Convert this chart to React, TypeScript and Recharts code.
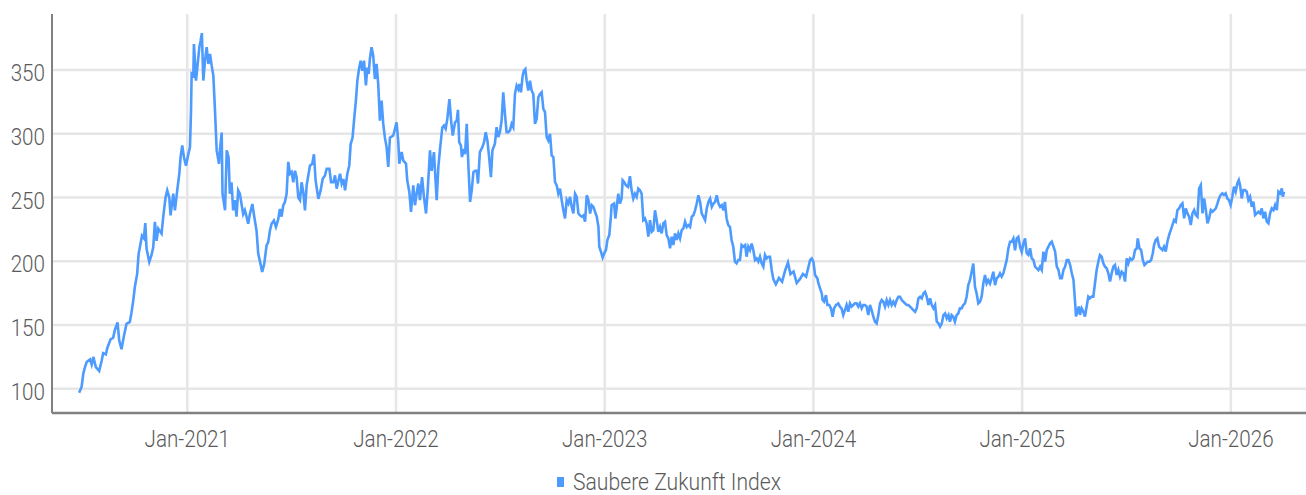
import React from 'react';
import { LineChart, Line, XAxis, YAxis, CartesianGrid, Legend } from 'recharts';

// [time in decimal years, index value]
const pts2020: [number, number][] = [
  [2020.482, 96.9], [2020.494, 101.6], [2020.502, 112], [2020.510, 117], [2020.518, 121], [2020.534, 123], [2020.542, 119],
  [2020.550, 125], [2020.562, 117], [2020.578, 114], [2020.590, 122], [2020.597, 128], [2020.610, 127], [2020.617, 132],
  [2020.633, 139], [2020.645, 140], [2020.653, 146], [2020.666, 152], [2020.674, 138], [2020.685, 131], [2020.696, 141],
  [2020.709, 151], [2020.725, 152.5], [2020.733, 160], [2020.741, 169], [2020.749, 180], [2020.760, 190], [2020.767, 206],
  [2020.773, 211], [2020.783, 220], [2020.792, 218], [2020.799, 230], [2020.805, 210], [2020.818, 199.5], [2020.829, 205],
  [2020.837, 211], [2020.845, 231], [2020.853, 216], [2020.861, 225.6], [2020.877, 221.7], [2020.885, 235], [2020.896, 250],
  [2020.904, 255.6], [2020.914, 250], [2020.920, 236], [2020.933, 253], [2020.941, 240], [2020.952, 255.6], [2020.962, 268.7],
  [2020.968, 281.7], [2020.976, 290.9], [2020.984, 281.7], [2020.994, 275],
];

const pts2021: [number, number][] = [
  [2021.005, 284], [2021.013, 289.6], [2021.018, 318], [2021.021, 347], [2021.029, 345.7], [2021.032, 370.5], [2021.042, 341.7],
  [2021.050, 354.8], [2021.058, 368], [2021.064, 373], [2021.070, 379], [2021.077, 341.8], [2021.085, 357.4], [2021.093, 368],
  [2021.101, 354.8], [2021.109, 362.7], [2021.117, 353.5], [2021.125, 345.7], [2021.133, 318], [2021.141, 287], [2021.152, 276.5],
  [2021.157, 288], [2021.165, 301], [2021.169, 253], [2021.181, 240], [2021.189, 287], [2021.198, 281.7], [2021.204, 253],
  [2021.212, 262], [2021.220, 240], [2021.228, 248], [2021.236, 235], [2021.244, 255.6], [2021.252, 253], [2021.260, 245],
  [2021.268, 237], [2021.276, 240], [2021.284, 235], [2021.292, 229.5], [2021.300, 237], [2021.312, 245], [2021.319, 237],
  [2021.332, 224], [2021.340, 206], [2021.351, 198], [2021.359, 191.6], [2021.369, 198], [2021.380, 212.5], [2021.388, 215],
  [2021.396, 224], [2021.404, 229.5], [2021.415, 232], [2021.425, 227], [2021.436, 233], [2021.444, 241], [2021.452, 235],
  [2021.460, 244], [2021.468, 246.5], [2021.476, 253], [2021.484, 278], [2021.492, 268.7], [2021.500, 270], [2021.508, 262],
  [2021.516, 271], [2021.524, 266], [2021.532, 250], [2021.540, 248], [2021.548, 262], [2021.556, 254], [2021.564, 240],
  [2021.572, 259.6], [2021.580, 267.4], [2021.588, 275], [2021.599, 276.5], [2021.607, 284], [2021.615, 263.4], [2021.628, 249],
  [2021.639, 255.6], [2021.649, 264.7], [2021.660, 267.4], [2021.668, 272.6], [2021.681, 272.6], [2021.689, 262], [2021.700, 262],
  [2021.708, 267.4], [2021.716, 257], [2021.724, 263], [2021.732, 268.7], [2021.740, 261], [2021.748, 264.7], [2021.756, 255.6],
  [2021.767, 268.7], [2021.776, 275], [2021.783, 292], [2021.792, 297], [2021.799, 310.4], [2021.808, 326], [2021.815, 341.8],
  [2021.824, 352], [2021.831, 357.4], [2021.839, 349.5], [2021.847, 357.4], [2021.856, 337.9], [2021.863, 352], [2021.869, 347],
  [2021.875, 358.7], [2021.883, 368], [2021.891, 361.3], [2021.899, 343], [2021.907, 354.8], [2021.915, 339], [2021.923, 310.4],
  [2021.931, 326], [2021.939, 307.8], [2021.947, 297], [2021.955, 289.6], [2021.963, 274], [2021.971, 297], [2021.987, 298.7],
];

const pts2022: [number, number][] = [
  [2022.003, 309], [2022.011, 294], [2022.016, 276.6], [2022.027, 285.7], [2022.035, 279], [2022.048, 276.6], [2022.054, 263.5],
  [2022.064, 254.4], [2022.072, 238.8], [2022.083, 259.6], [2022.091, 244], [2022.099, 253], [2022.107, 261], [2022.115, 248],
  [2022.125, 266], [2022.134, 250.5], [2022.144, 237.5], [2022.152, 255.7], [2022.163, 287], [2022.171, 271], [2022.182, 285.7],
  [2022.195, 248], [2022.203, 274], [2022.211, 288], [2022.222, 305], [2022.230, 306.5], [2022.238, 304], [2022.246, 311.7],
  [2022.256, 327.3], [2022.264, 310.4], [2022.272, 298.7], [2022.283, 309], [2022.291, 310.4], [2022.297, 318.8], [2022.303, 293.5],
  [2022.311, 291], [2022.316, 281.8], [2022.326, 288], [2022.331, 284], [2022.339, 307.8], [2022.347, 275], [2022.355, 246.6],
  [2022.363, 255.7], [2022.371, 270], [2022.379, 271], [2022.387, 271], [2022.393, 261], [2022.402, 285.7], [2022.414, 289.6],
  [2022.422, 293.5], [2022.430, 301.3], [2022.438, 294.8], [2022.447, 280.5], [2022.455, 266], [2022.462, 287], [2022.474, 292.2],
  [2022.482, 305.2], [2022.490, 297.4], [2022.498, 301.3], [2022.506, 310.4], [2022.514, 332.6], [2022.522, 315.6], [2022.530, 301.3],
  [2022.538, 301.3], [2022.546, 302.6], [2022.554, 307.8], [2022.562, 305.2], [2022.570, 331.2], [2022.578, 337.8], [2022.586, 335],
  [2022.591, 339], [2022.599, 332.6], [2022.607, 345.6], [2022.613, 349.5], [2022.620, 350.8], [2022.626, 341.7], [2022.634, 333.9],
  [2022.642, 341.7], [2022.650, 333.9], [2022.658, 331.2], [2022.666, 307.8], [2022.674, 311.7], [2022.682, 328.6], [2022.690, 331.2],
  [2022.698, 332.6], [2022.706, 319.5], [2022.714, 317], [2022.722, 297.4], [2022.730, 294.8], [2022.738, 300], [2022.746, 283],
  [2022.754, 281.8], [2022.762, 262.2], [2022.770, 259.6], [2022.778, 253], [2022.786, 257], [2022.794, 248], [2022.802, 240],
  [2022.810, 233.6], [2022.818, 248], [2022.826, 245.3], [2022.834, 250.5], [2022.842, 242.7], [2022.850, 237.5], [2022.858, 253],
  [2022.866, 250.5], [2022.874, 237.5], [2022.882, 236], [2022.890, 235], [2022.898, 236], [2022.906, 231], [2022.914, 251.8],
  [2022.922, 248], [2022.930, 237.5], [2022.938, 244], [2022.946, 242.7], [2022.954, 238.8], [2022.962, 235], [2022.970, 227],
  [2022.974, 211.5], [2022.982, 207.5], [2022.990, 203],
];

const pts2023: [number, number][] = [
  [2023.001, 207.5], [2023.006, 208.9], [2023.013, 216.7], [2023.022, 220.6], [2023.029, 233.6], [2023.033, 244], [2023.045, 245.3],
  [2023.051, 233.6], [2023.057, 241.4], [2023.065, 253], [2023.073, 245.3], [2023.081, 249.2], [2023.086, 263.5], [2023.093, 262.2],
  [2023.102, 259.6], [2023.112, 258.3], [2023.121, 266.7], [2023.129, 255.7], [2023.137, 249.2], [2023.145, 253], [2023.153, 250.5],
  [2023.161, 257], [2023.169, 255.7], [2023.177, 253], [2023.185, 232.3], [2023.193, 233.6], [2023.201, 229.7], [2023.209, 219.3],
  [2023.217, 232.3], [2023.225, 223.2], [2023.233, 224.5], [2023.241, 240], [2023.249, 232.3], [2023.257, 223.2], [2023.265, 227],
  [2023.273, 221.9], [2023.281, 229.7], [2023.289, 231], [2023.297, 220.6], [2023.305, 218], [2023.313, 210.2], [2023.321, 219.3],
  [2023.329, 212.8], [2023.337, 221.9], [2023.345, 216.7], [2023.353, 221.9], [2023.361, 218], [2023.369, 224.5], [2023.377, 225.8],
  [2023.385, 231], [2023.393, 227], [2023.401, 228.4], [2023.409, 227], [2023.417, 235], [2023.425, 236.2], [2023.433, 240],
  [2023.441, 245.3], [2023.449, 251.8], [2023.457, 246.6], [2023.465, 237.5], [2023.473, 235], [2023.481, 232.3], [2023.489, 241.4],
  [2023.497, 246.6], [2023.505, 249.2], [2023.513, 242.7], [2023.521, 245.3], [2023.529, 246.6], [2023.537, 251.8], [2023.545, 245.3],
  [2023.553, 242.7], [2023.561, 244], [2023.569, 240], [2023.576, 246.6], [2023.584, 233.6], [2023.592, 228.4], [2023.600, 227],
  [2023.608, 216.7], [2023.616, 211.5], [2023.624, 199.7], [2023.632, 198.4], [2023.640, 201], [2023.648, 201], [2023.656, 212.8],
  [2023.664, 211.5], [2023.673, 212.8], [2023.680, 203.6], [2023.688, 211.5], [2023.696, 208.9], [2023.704, 214], [2023.712, 208.9],
  [2023.720, 201], [2023.728, 202.3], [2023.736, 199.7], [2023.744, 203.6], [2023.752, 198.4], [2023.760, 195.8], [2023.768, 205],
  [2023.776, 202.3], [2023.784, 203.6], [2023.792, 203.6], [2023.800, 193.2], [2023.808, 186], [2023.820, 182], [2023.835, 187],
  [2023.850, 184], [2023.865, 193], [2023.878, 199], [2023.890, 190], [2023.905, 192], [2023.920, 183], [2023.935, 186],
  [2023.950, 190], [2023.965, 188], [2023.984, 200.9], [2023.992, 202.2],
];

const pts2024: [number, number][] = [
  [2024.000, 199.6], [2024.008, 189.2], [2024.019, 186.6], [2024.024, 182.6], [2024.032, 178.7], [2024.040, 174.8], [2024.044, 169.6],
  [2024.051, 168.3], [2024.060, 173.5], [2024.067, 165.7], [2024.076, 165.7], [2024.084, 163.1], [2024.092, 156.5], [2024.099, 163.1],
  [2024.108, 165.7], [2024.119, 167], [2024.127, 164.4], [2024.135, 163.1], [2024.143, 157.8], [2024.151, 161.7], [2024.159, 165.7],
  [2024.167, 160.4], [2024.175, 167], [2024.183, 164.4], [2024.191, 165.7], [2024.199, 167], [2024.207, 167], [2024.215, 164.4],
  [2024.223, 167], [2024.231, 163.1], [2024.239, 165.7], [2024.247, 165.7], [2024.255, 164.4], [2024.263, 157.8], [2024.271, 165.7],
  [2024.279, 161.7], [2024.287, 156.5], [2024.295, 152.6], [2024.303, 151.3], [2024.311, 157.8], [2024.319, 167], [2024.327, 169.6],
  [2024.335, 168.3], [2024.343, 164.4], [2024.351, 169.6], [2024.359, 165.7], [2024.367, 169.6], [2024.375, 165.7], [2024.383, 168.3],
  [2024.391, 165.7], [2024.399, 169.6], [2024.407, 172.2], [2024.415, 172.2], [2024.423, 169.6], [2024.431, 168.3], [2024.439, 167],
  [2024.447, 165.7], [2024.455, 165.7], [2024.463, 164.4], [2024.471, 163.1], [2024.479, 161.7], [2024.487, 160.4], [2024.495, 163.1],
  [2024.503, 170.9], [2024.511, 172.2], [2024.519, 170.9], [2024.527, 174.8], [2024.535, 176.1], [2024.543, 172.2], [2024.551, 165.7],
  [2024.559, 170.9], [2024.567, 165.7], [2024.575, 163.1], [2024.583, 165.7], [2024.591, 152.6], [2024.599, 151.3], [2024.607, 148.7],
  [2024.615, 151.3], [2024.623, 157.8], [2024.631, 159.1], [2024.639, 155.2], [2024.647, 157.8], [2024.654, 152.6], [2024.662, 157.8],
  [2024.670, 156.5], [2024.678, 152.6], [2024.686, 157.8], [2024.694, 159.1], [2024.702, 163.1], [2024.710, 163.1], [2024.718, 165.7],
  [2024.726, 167], [2024.734, 172.2], [2024.742, 181.3], [2024.750, 185.2], [2024.758, 191.8], [2024.766, 198.3], [2024.774, 180],
  [2024.782, 174.8], [2024.790, 167], [2024.798, 168.3], [2024.806, 172.2], [2024.814, 182.6], [2024.822, 189.2], [2024.830, 182.6],
  [2024.838, 185.2], [2024.846, 182.6], [2024.854, 186.6], [2024.862, 191.8], [2024.870, 181.3], [2024.878, 186.6], [2024.886, 187.9],
  [2024.894, 190.5], [2024.902, 187.9], [2024.910, 190.5], [2024.918, 195.7], [2024.926, 200.9], [2024.934, 210], [2024.942, 215.3],
  [2024.950, 215.3], [2024.958, 217.9], [2024.966, 208.7], [2024.974, 217.9], [2024.982, 219.2], [2024.990, 211.4], [2024.998, 207.4],
];

const pts2025: [number, number][] = [
  [2025.006, 214], [2025.014, 217.9], [2025.022, 206.3], [2025.030, 205], [2025.038, 210.2], [2025.046, 202.3], [2025.054, 201],
  [2025.062, 195.8], [2025.070, 194.5], [2025.078, 193.2], [2025.086, 195.8], [2025.094, 193.2], [2025.102, 207.6], [2025.110, 199.7],
  [2025.118, 208.9], [2025.126, 211.5], [2025.134, 214.1], [2025.142, 215.4], [2025.150, 211.5], [2025.158, 207.6], [2025.166, 195.8],
  [2025.174, 193.2], [2025.182, 186.7], [2025.190, 186.7], [2025.198, 193.2], [2025.206, 195.8], [2025.214, 201], [2025.222, 201],
  [2025.230, 197.1], [2025.238, 190.6], [2025.246, 185.4], [2025.254, 167.1], [2025.258, 156.7], [2025.265, 160.6], [2025.271, 164.5],
  [2025.277, 158], [2025.285, 163.2], [2025.293, 160.6], [2025.301, 156.7], [2025.309, 164.5], [2025.317, 172.3], [2025.325, 171],
  [2025.333, 172.3], [2025.341, 172.3], [2025.349, 182.8], [2025.357, 193.2], [2025.365, 199.7], [2025.373, 205], [2025.381, 203.7],
  [2025.389, 198.4], [2025.397, 195.8], [2025.405, 194.5], [2025.413, 190.6], [2025.421, 184.1], [2025.429, 190.6], [2025.437, 195.8],
  [2025.445, 197.1], [2025.453, 189.3], [2025.461, 193.2], [2025.469, 188], [2025.477, 191.9], [2025.485, 190.6], [2025.493, 184.1],
  [2025.501, 202.3], [2025.509, 198.4], [2025.517, 202.3], [2025.525, 201], [2025.533, 202.3], [2025.541, 208.9], [2025.549, 210.2],
  [2025.554, 218], [2025.562, 210.2], [2025.570, 208.9], [2025.578, 201], [2025.586, 197.1], [2025.594, 198.4], [2025.602, 199.7],
  [2025.610, 199.7], [2025.618, 201], [2025.626, 206.3], [2025.632, 212.8], [2025.640, 216.7], [2025.648, 218], [2025.656, 211.5],
  [2025.664, 210.2], [2025.672, 208.9], [2025.680, 211.5], [2025.688, 207.6], [2025.696, 215.4], [2025.704, 220.6], [2025.712, 224.5],
  [2025.720, 228.4], [2025.728, 232.4], [2025.736, 231.1], [2025.744, 240.2], [2025.752, 241.5], [2025.760, 244.1], [2025.768, 245.4],
  [2025.776, 233.7], [2025.784, 241.5], [2025.792, 237.6], [2025.800, 235], [2025.808, 228.5], [2025.816, 237.6], [2025.824, 240.2],
  [2025.832, 236.3], [2025.840, 235], [2025.848, 257.2], [2025.856, 259.8], [2025.864, 237.6], [2025.872, 249.3], [2025.880, 240.2],
  [2025.888, 229.8], [2025.896, 233.7], [2025.904, 240.2], [2025.912, 238.9], [2025.920, 240.2], [2025.928, 241.5], [2025.936, 245.4],
  [2025.943, 249.3], [2025.951, 252], [2025.959, 253.3], [2025.967, 252], [2025.975, 253.3], [2025.983, 249.3], [2025.991, 248],
  [2025.999, 244.1],
];

const pts2026: [number, number][] = [
  [2026.007, 250.6], [2026.015, 258.5], [2026.023, 254.6], [2026.031, 261.1], [2026.038, 263.7], [2026.044, 259.8], [2026.052, 249.3],
  [2026.060, 255.9], [2026.068, 255.9], [2026.076, 254.6], [2026.084, 248], [2026.092, 250.6], [2026.100, 242.8], [2026.108, 246.7],
  [2026.116, 236.3], [2026.124, 237.6], [2026.132, 238.9], [2026.140, 237.6], [2026.148, 241.5], [2026.156, 233.7], [2026.164, 238.9],
  [2026.172, 231.1], [2026.180, 229.8], [2026.188, 237.6], [2026.196, 241.5], [2026.204, 240.2], [2026.212, 244.1], [2026.220, 240.2],
  [2026.228, 254.6], [2026.236, 253.3], [2026.244, 257.2], [2026.249, 250.6], [2026.255, 254.6],
];

const xTicks = [2021, 2022, 2023, 2024, 2025, 2026];
const yTicks = [100, 150, 200, 250, 300, 350];
const xDomain: [number, number] = [2020.352, 2026.36];
const yDomain: [number, number] = [81, 394];
const seriesName = 'Saubere Zukunft Index';

const data = [...pts2020, ...pts2021, ...pts2022, ...pts2023, ...pts2024, ...pts2025, ...pts2026].map(([t, v]) => ({ t, v }));

const FONT = 'Roboto, sans-serif';
const SX = 0.86;
const TEXT = '#5a5a5a';
const BLUE = '#4d9bff';

function XTick(props: any) {
  const { x, y, payload } = props;
  return (
    <g transform={`translate(${x},${y + 34}) scale(${SX},1)`}>
      <text x={0} y={0} textAnchor="middle" fontFamily={FONT} fontWeight={300} fontSize={24} fill={TEXT}>
        {`Jan-${payload.value}`}
      </text>
    </g>
  );
}

function YTick(props: any) {
  const { x, y, payload } = props;
  return (
    <g transform={`translate(${x - 7},${y + 11}) scale(${SX},1)`}>
      <text x={0} y={0} textAnchor="end" fontFamily={FONT} fontWeight={300} fontSize={24} fill={TEXT}>
        {payload.value}
      </text>
    </g>
  );
}

function LegendContent() {
  return (
    <svg width={1306} height={40} style={{ display: 'block', overflow: 'visible' }}>
      <rect x={557} y={22} width={7} height={10} fill={BLUE} />
      <g transform="translate(573,34.5) scale(0.92,1)">
        <text x={0} y={0} fontFamily={FONT} fontWeight={300} fontSize={23} fill={TEXT}>
          {seriesName}
        </text>
      </g>
    </svg>
  );
}

function scaleFn(s: any): ((v: number) => number) | null {
  if (typeof s === 'function') return (v: number) => s(v);
  if (s && typeof s.map === 'function') return (v: number) => s.map(v);
  if (s && typeof s.scale === 'function') return (v: number) => s.scale(v);
  return null;
}

const hLines = (p: any) => {
  try {
    const f = scaleFn(p?.yAxis?.scale);
    const r = f ? yTicks.map((v) => f(v)) : [];
    if (r.length && r.every((n) => typeof n === 'number' && isFinite(n))) return r;
  } catch (e) {}
  const o = p.offset;
  return yTicks.map((v) => o.top + (o.height * (yDomain[1] - v)) / (yDomain[1] - yDomain[0]));
};
const vLines = (p: any) => {
  try {
    const f = scaleFn(p?.xAxis?.scale);
    const r = f ? xTicks.map((v) => f(v)) : [];
    if (r.length && r.every((n) => typeof n === 'number' && isFinite(n))) return r;
  } catch (e) {}
  const o = p.offset;
  return xTicks.map((v) => o.left + (o.width * (v - xDomain[0])) / (xDomain[1] - xDomain[0]));
};

export default function App() {
  return (
    <div style={{ position: 'absolute', left: 0, top: 0, width: 1306, height: 495, background: '#fff' }}>
      <LineChart width={1306} height={495} data={data} margin={{ top: 14, right: 0, bottom: 0, left: 0 }}>
        <CartesianGrid
          stroke="#e6e6e6"
          strokeWidth={2.5}
          horizontalCoordinatesGenerator={hLines}
          verticalCoordinatesGenerator={vLines}
        />
        <XAxis
          dataKey="t"
          type="number"
          domain={xDomain}
          ticks={xTicks}
          interval={0}
          height={42}
          tickSize={0}
          tickMargin={0}
          tickLine={false}
          axisLine={{ stroke: '#808080', strokeWidth: 2.5 }}
          tick={<XTick />}
          allowDataOverflow
        />
        <YAxis
          type="number"
          domain={yDomain}
          ticks={yTicks}
          interval={0}
          width={52}
          tickSize={0}
          tickMargin={0}
          tickLine={false}
          axisLine={{ stroke: '#808080', strokeWidth: 2 }}
          tick={<YTick />}
          allowDataOverflow
        />
        <Legend verticalAlign="bottom" height={40} content={<LegendContent />} wrapperStyle={{ left: 0, bottom: 0, width: 1306, height: 40 }} />
        <Line
          type="linear"
          dataKey="v"
          name={seriesName}
          stroke={BLUE}
          strokeWidth={2.6}
          dot={false}
          activeDot={false}
          isAnimationActive={false}
        />
      </LineChart>
    </div>
  );
}
